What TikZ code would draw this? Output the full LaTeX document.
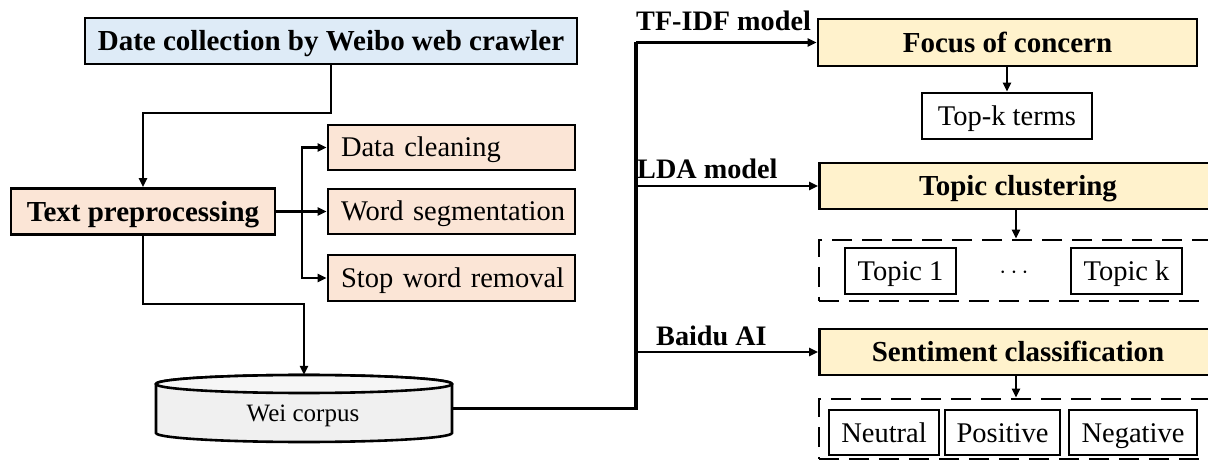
\documentclass[tikz,border=0pt]{standalone}
\usepackage{fontspec}
\setmainfont{Liberation Serif}
\usetikzlibrary{arrows.meta}
\definecolor{cblue}{RGB}{222,235,247}
\definecolor{cpeach}{RGB}{251,229,214}
\definecolor{cyellow}{RGB}{255,242,204}
\definecolor{cgray}{RGB}{240,240,240}
\definecolor{cgraytop}{RGB}{246,246,246}
\begin{document}
\begin{tikzpicture}[x=1pt,y=1pt,
  lw/.style={line width=2.6pt},
  box/.style={draw, lw, inner sep=0pt, text height=19pt, text depth=0pt,
    font=\fontsize{28.5}{30}\selectfont},
  bbox/.style={box, text height=19.3pt, font=\fontsize{29}{30}\selectfont\bfseries},
  lbox/.style={box, align=left, inner xsep=13pt, text width=221pt},
  arr/.style={lw, -{Triangle[length=9pt,width=8pt]}},
  dbox/.style={draw, lw, dash pattern=on 20pt off 10pt, inner sep=0pt},
  lab/.style={anchor=base west, inner sep=0pt, font=\fontsize{28.2}{30}\selectfont\bfseries},
]
\useasboundingbox (0,0) rectangle (1208,461);
\clip (0,0) rectangle (1208,461);

% left part
\node[bbox, fill=cblue, minimum width=492pt, minimum height=46pt] (date) at (331,420) {Date collection by Weibo web crawler};
\node[bbox, fill=cpeach, minimum width=264pt, minimum height=46pt] (prep) at (143,249.5) {Text preprocessing};
\node[lbox, fill=cpeach, minimum height=45pt] (clean) at (451.5,313.5) {\mbox{Data cleaning}};
\node[lbox, fill=cpeach, minimum height=45pt] (seg) at (451.5,249.5) {\mbox{Word segmentation}};
\node[lbox, fill=cpeach, minimum height=46pt] (stop) at (451.5,183) {\mbox{Stop word removal}};

% corpus cylinder
\draw[lw, fill=cgray] (156,77) -- (156,28) arc[start angle=180, end angle=360, x radius=148, y radius=9]
  -- (452,77) arc[start angle=0, end angle=180, x radius=148, y radius=9] -- cycle;
\draw[lw, fill=cgraytop] (304,77) ellipse[x radius=148, y radius=9];
\node[minimum width=296pt, minimum height=67pt, inner sep=0pt] (corpus) at (304,52.5) {};
\node[inner sep=0pt, text height=16.5pt, text depth=0pt, font=\fontsize{25}{27}\selectfont] (corptxt) at (303,48) {Wei corpus};

% right part
\node[bbox, fill=cyellow, minimum width=379pt, minimum height=47pt] (focus) at (1007.5,418.5) {Focus of concern};
\node[box, minimum width=170pt, minimum height=46pt] (topk) at (1007,345) {Top-k terms};
\node[bbox, fill=cyellow, minimum width=397pt, minimum height=46pt] (topic) at (1018,275) {Topic clustering};
\node[dbox, minimum width=391pt, minimum height=61pt] (dash1) at (1014.5,190.5) {};
\node[box, minimum width=111pt, minimum height=46pt] (t1) at (900.5,190) {Topic 1};
\node[inner sep=0pt, font=\fontsize{23}{23}\selectfont] (dots) at (1014,188) {$\cdots$};
\node[box, minimum width=111pt, minimum height=46pt] (tk) at (1126.5,190) {Topic k};
\node[bbox, fill=cyellow, minimum width=397pt, minimum height=46pt] (senti) at (1018,109) {Sentiment classification};
\node[dbox, minimum width=391pt, minimum height=60pt] (dash2) at (1014.5,32) {};
\node[box, minimum width=110pt, minimum height=45pt] (neutral) at (884,28.5) {Neutral};
\node[box, minimum width=115pt, minimum height=45pt] (positive) at (1002.5,28.5) {Positive};
\node[box, minimum width=128pt, minimum height=45pt] (negative) at (1133,28.5) {Negative};

% labels
\node[lab] (ltf) at (636,430) {TF-IDF model};
\node[lab] (llda) at (637,282) {LDA model};
\node[lab] (lbai) at (656,115.5) {Baidu AI};

% connectors left
\coordinate (c1) at (200,348);
\draw[arr] (date.south) |- (c1) -| (prep.north);
\draw[arr] (prep.east) -- (seg.west);
\coordinate (br) at (302,0);
\draw[arr] (br |- seg.west) -- (br |- clean.west) -- (clean.west);
\draw[arr] (br |- seg.west) -- (br |- stop.west) -- (stop.west);
\coordinate (c2) at (304,157);
\draw[arr] (prep.south) |- (c2) -- (corpus.north);

% trunk
\coordinate (trunk) at (636,0);
\draw[line width=3.2pt] (corpus.east) -- (trunk |- corpus.east) -- (trunk |- focus.west);
\draw[arr] (trunk |- focus.west) -- (focus.west);
\draw[arr] (trunk |- topic.west) -- (topic.west);
\draw[arr] (trunk |- senti.west) -- (senti.west);

% right connectors
\draw[arr] (topk.north |- focus.south) -- (topk.north);
\coordinate (ax) at (1016,0);
\draw[arr] (ax |- topic.south) -- (ax |- dash1.north);
\draw[arr] (ax |- senti.south) -- (ax |- dash2.north);
\end{tikzpicture}
\end{document}
